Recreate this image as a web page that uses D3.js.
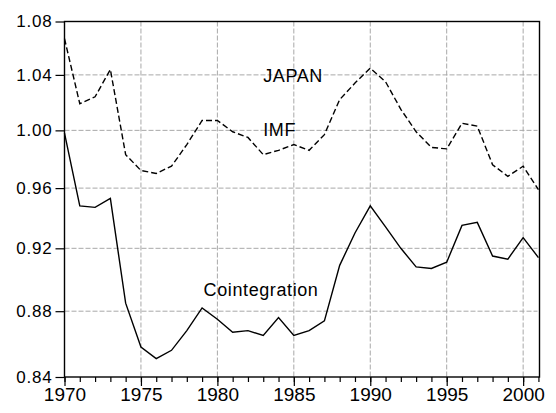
<!DOCTYPE html>
<html>
<head>
<meta charset="utf-8">
<script src="https://cdn.jsdelivr.net/npm/d3@7"></script>
<style>
  body { margin: 0; background: #fff; }
  svg { display: block; font-family: "Liberation Sans", Arial, sans-serif; }
</style>
</head>
<body>
<script>
// years and the two series
var years = d3.range(1970, 2002);
var imf = [1.067, 1.019, 1.024, 1.044, 0.983, 0.972, 0.970, 0.975, 0.990, 1.007,
           1.007, 0.999, 0.995, 0.983, 0.986, 0.990, 0.986, 0.997, 1.022, 1.034,
           1.045, 1.035, 1.015, 0.999, 0.988, 0.987, 1.005, 1.003, 0.976, 0.968,
           0.975, 0.959];
var coint = [0.998, 0.948, 0.947, 0.953, 0.885, 0.858, 0.851, 0.856, 0.868, 0.882,
             0.875, 0.867, 0.868, 0.865, 0.876, 0.865, 0.868, 0.874, 0.909, 0.930,
             0.948, 0.934, 0.920, 0.908, 0.907, 0.911, 0.935, 0.937, 0.915, 0.913,
             0.927, 0.914];
var yTicks = [0.84, 0.88, 0.92, 0.96, 1.00, 1.04, 1.08];
var xTicks = [1970, 1975, 1980, 1985, 1990, 1995, 2000];
var labels = [
  {text: "JAPAN", year: 1983, value: 1.0348},
  {text: "IMF", year: 1983, value: 0.996},
  {text: "Cointegration", year: 1979.1, value: 0.8895}
];

var w = 556, h = 413;
var margin = {top: 21.5, right: 16.5, bottom: 36, left: 64.5},
    width = w - margin.left - margin.right,
    height = h - margin.top - margin.bottom;

var svg = d3.select("body").append("svg")
    .attr("width", w)
    .attr("height", h)
  .append("g")
    .attr("transform", "translate(" + margin.left + "," + margin.top + ")");

// scales (y is logarithmic in the original)
var xScale = d3.scaleLinear()
    .domain([1970, 2001.07])
    .range([0, width]);
var yScale = d3.scaleLog()
    .domain([0.84, 1.08])
    .range([height, 0]);

// grid
svg.append("g").selectAll("line")
    .data(yTicks.slice(1, -1))
  .enter().append("line")
    .attr("x1", 0).attr("x2", width - 2)
    .attr("y1", function(d) { return yScale(d); })
    .attr("y2", function(d) { return yScale(d); })
    .attr("stroke", "#a8a8a8")
    .attr("stroke-dasharray", "5,2");
svg.append("g").selectAll("line")
    .data(xTicks.slice(1))
  .enter().append("line")
    .attr("x1", function(d) { return xScale(d); })
    .attr("x2", function(d) { return xScale(d); })
    .attr("y1", 0).attr("y2", height)
    .attr("stroke", "#a8a8a8")
    .attr("stroke-dasharray", "5,2");

// lines
var line = d3.line()
    .x(function(d, i) { return xScale(years[i]); })
    .y(function(d) { return yScale(d); });

svg.append("path")
    .attr("d", line(imf))
    .attr("fill", "none")
    .attr("stroke", "#000")
    .attr("stroke-width", 1.4)
    .attr("stroke-dasharray", "6,3");

svg.append("path")
    .attr("d", line(coint))
    .attr("fill", "none")
    .attr("stroke", "#000")
    .attr("stroke-width", 1.4);

// frame
svg.append("rect")
    .attr("width", width)
    .attr("height", height)
    .attr("fill", "none")
    .attr("stroke", "#000")
    .attr("stroke-width", 1.4);

// y axis
var yAxis = svg.append("g")
    .call(d3.axisLeft(yScale).tickValues(yTicks).tickSize(9).tickPadding(3)
      .tickFormat(d3.format(".2f")));
yAxis.select(".domain").remove();
yAxis.selectAll("line").attr("stroke-width", 1.2);
yAxis.selectAll("text")
    .attr("font-size", "17px")
    .attr("letter-spacing", "0.8px")
    .attr("font-family", "Liberation Sans, Arial, sans-serif")
    .attr("fill", "#000");

// x axis: minor ticks every year, labelled ones every five
var xMinor = svg.append("g")
    .attr("transform", "translate(0," + height + ")")
    .call(d3.axisBottom(xScale).tickValues(years).tickSize(5).tickFormat(""));
xMinor.select(".domain").remove();
xMinor.selectAll("line").attr("stroke-width", 1.2);

var xAxis = svg.append("g")
    .attr("transform", "translate(0," + height + ")")
    .call(d3.axisBottom(xScale).tickValues(xTicks).tickSize(9).tickPadding(2)
      .tickFormat(d3.format("d")));
xAxis.select(".domain").remove();
xAxis.selectAll("line").attr("stroke-width", 1.2);
xAxis.selectAll("text")
    .attr("font-size", "19px")
    .attr("font-family", "Liberation Sans, Arial, sans-serif")
    .attr("fill", "#000");

// series labels
svg.selectAll(".lbl")
    .data(labels)
  .enter().append("text")
    .attr("class", "lbl")
    .attr("x", function(d) { return xScale(d.year); })
    .attr("y", function(d) { return yScale(d.value); })
    .attr("font-size", "18px")
    .attr("letter-spacing", "0.6px")
    .text(function(d) { return d.text; });
</script>
</body>
</html>
